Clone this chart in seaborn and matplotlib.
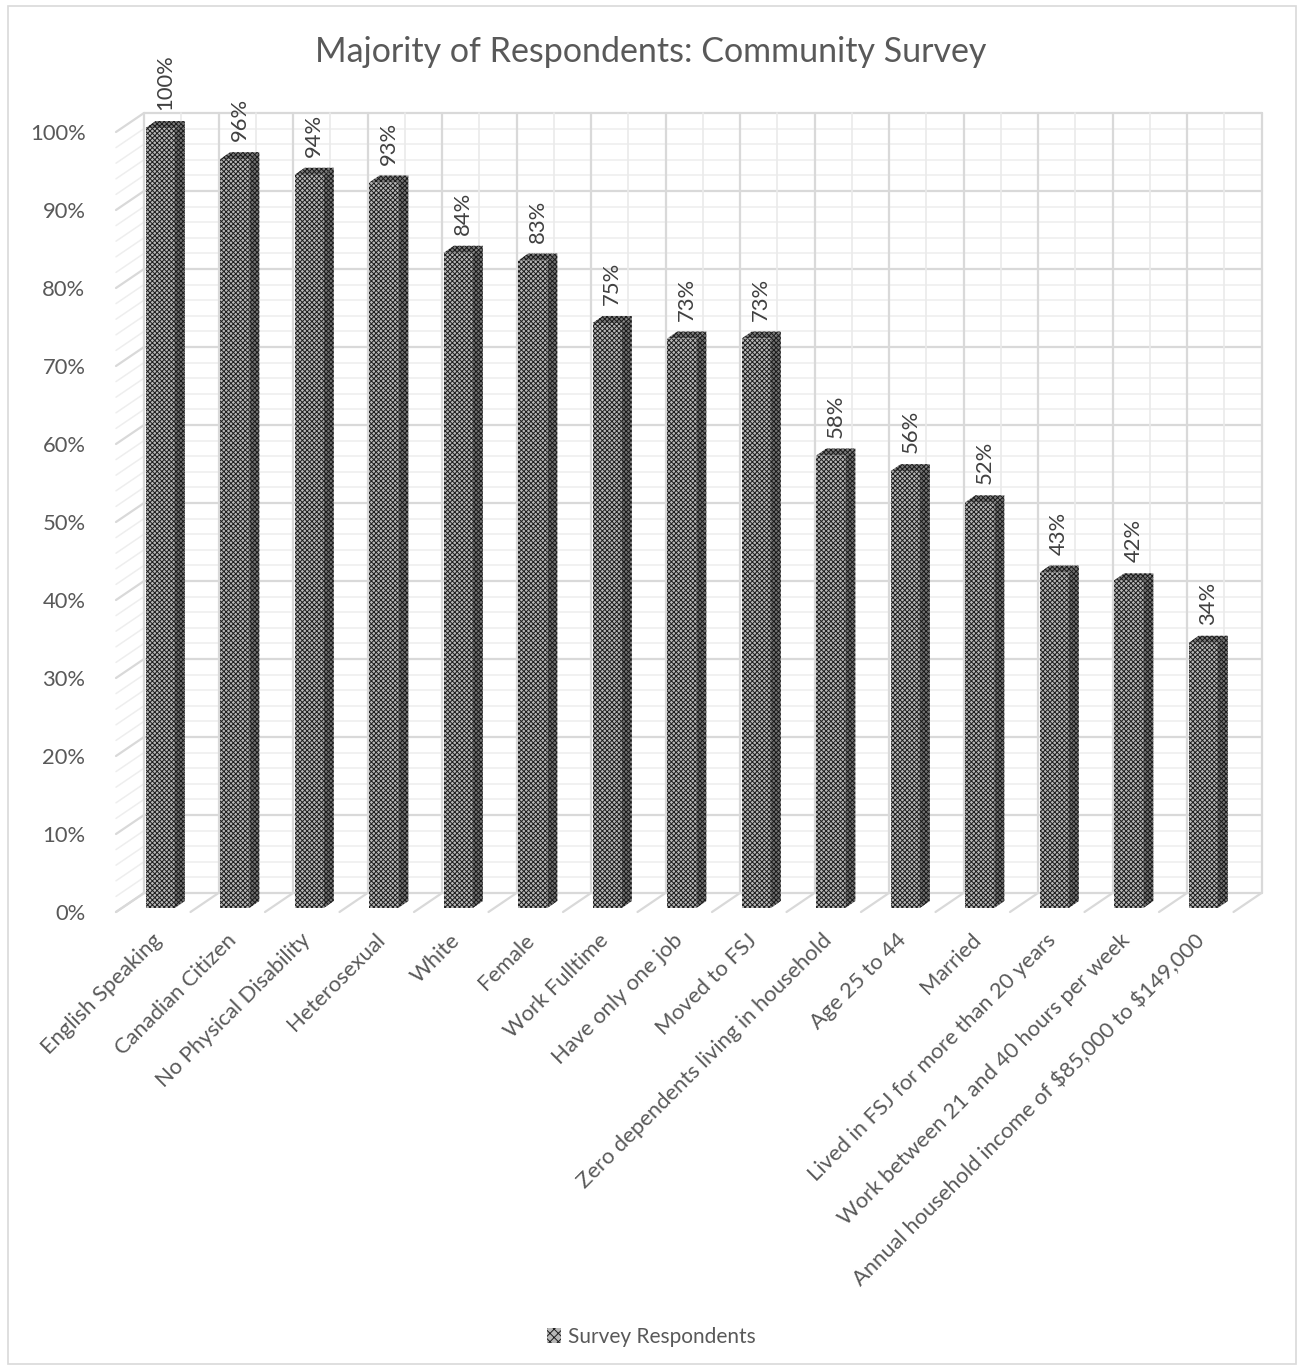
import matplotlib
matplotlib.use("Agg")
import matplotlib.pyplot as plt
import matplotlib.transforms as mtrans
import seaborn as sns
import pandas as pd
from matplotlib.patches import Polygon, Rectangle, Patch
from matplotlib.lines import Line2D

categories = [
    "English Speaking", "Canadian Citizen", "No Physical Disability", "Heterosexual",
    "White", "Female", "Work Fulltime", "Have only one job", "Moved to FSJ",
    "Zero dependents living in household", "Age 25 to 44", "Married",
    "Lived in FSJ for more than 20 years", "Work between 21 and 40 hours per week",
    "Annual household income of $85,000 to $149,000",
]
values = [100, 96, 94, 93, 84, 83, 75, 73, 73, 58, 56, 52, 43, 42, 34]
series_name = "Survey Respondents"
title = "Majority of Respondents: Community Survey"
yticks = list(range(0, 101, 10))

sns.set_theme(style="white")
plt.rcParams["font.family"] = ["Lato", "DejaVu Sans"]
plt.rcParams["hatch.linewidth"] = 0.7

W, H = 1302, 1370
fig = plt.figure(figsize=(W / 100, H / 100), dpi=100)
# axes = front plane of bars
ax_l, ax_r, ax_b, ax_t = 123, 1240.5, 908, 128
ax = fig.add_axes([ax_l / W, (H - ax_b) / H, (ax_r - ax_l) / W, (ax_b - ax_t) / H])

df = pd.DataFrame({"cat": categories, "val": values})
TXT = "#595959"
FS = 15.8

px_x = (ax_r - ax_l) / 15.0
px_y = (ax_b - ax_t) / 100.0
def dxp(p):
    return p / px_x
def dyp(p):
    return p / px_y

# depth offsets (pixels): back wall, front edge, bar depth
bx, by = dxp(21), dyp(15)
fx, fy = dxp(-7), dyp(-4)
ddx, ddy = dxp(10), dyp(7)

# back wall grid
xl, xr = -0.5, 14.5
for yv in range(0, 101, 2):
    major = yv % 10 == 0
    col = "#d9d9d9" if major else "#eeeeee"
    lw = 1.6 if major else 1.1
    ax.add_line(Line2D([xl + bx, xr + bx], [yv + by, yv + by], color=col, lw=lw, zorder=1, clip_on=False))
    ax.add_line(Line2D([xl + fx, xl + bx], [yv + fy, yv + by], color=col, lw=lw, zorder=1, clip_on=False))
for k in range(31):
    xv = -0.5 + 0.5 * k
    major = k % 2 == 0
    col = "#d9d9d9" if major else "#eaeaea"
    lw = 1.6 if major else 1.2
    ax.add_line(Line2D([xv + bx, xv + bx], [by, 100 + by], color=col, lw=lw, zorder=1, clip_on=False))
for k in range(16):
    xv = -0.5 + k
    ax.add_line(Line2D([xv + fx, xv + bx], [fy, by], color="#d9d9d9", lw=1.6, zorder=1, clip_on=False))

# bars
HATCH = "xxxxxxx"
sns.barplot(data=df, x="cat", y="val", ax=ax, width=0.39, color="#b8b8b8",
            edgecolor="#1e1e1e", linewidth=0, hatch=HATCH, saturation=1, zorder=3)

for p, v in zip(ax.patches, values):
    x0 = p.get_x()
    x1 = x0 + p.get_width()
    h = p.get_height()
    side = Polygon([(x1, 0), (x1 + ddx, ddy), (x1 + ddx, h + ddy), (x1, h)], closed=True,
                   facecolor="#727272", edgecolor="#1a1a1a", hatch=HATCH, lw=0, zorder=3, clip_on=False)
    top = Polygon([(x0, h), (x0 + ddx, h + ddy), (x1 + ddx, h + ddy), (x1, h)], closed=True,
                  facecolor="#7a7a7a", edgecolor="#1a1a1a", hatch=HATCH, lw=0, zorder=3, clip_on=False)
    ax.add_patch(side)
    ax.add_patch(top)
    ax.text(p.get_x() + p.get_width() / 2 + ddx / 2, h + ddy + dyp(11), f"{v}%", rotation=90,
            ha="center", va="bottom", fontsize=FS, color="#404040", zorder=5)

ax.set_xlim(-0.5, 14.5)
ax.set_ylim(0, 100)
for s in ax.spines.values():
    s.set_visible(False)
ax.set_xlabel("")
ax.set_ylabel("")
ax.set_yticks(yticks)
ax.set_yticklabels([f"{t}%" for t in yticks], fontsize=FS, color=TXT)
ax.tick_params(axis="y", length=0, pad=27)
off = mtrans.ScaledTranslation(0, -0.04, fig.dpi_scale_trans)
for lab in ax.get_yticklabels():
    lab.set_transform(lab.get_transform() + off)

ax.set_xticks(range(len(categories)))
ax.set_xticklabels([])
ax.tick_params(axis="x", length=0)
for i, c in enumerate(categories):
    ax.text(i + dxp(-9), dyp(-22), c.replace("$", r"\$"), rotation=45, rotation_mode="anchor",
            ha="right", va="top", fontsize=FS, color=TXT, clip_on=False)

fig.text(0.5, (H - 52) / H, title, ha="center", va="center", fontsize=24.5, color=TXT)

handle = Patch(facecolor="#b8b8b8", edgecolor="#1e1e1e", hatch="xxxx", lw=0)
leg = fig.legend([handle], [series_name], loc="center", bbox_to_anchor=(0.5, (H - 1337) / H),
                 frameon=False, fontsize=15, handlelength=0.7, handleheight=0.7, handletextpad=0.3)
for t in leg.get_texts():
    t.set_color(TXT)

fig.patches.append(Rectangle((8 / W, 6 / H), (1296 - 8) / W, (1364 - 6) / H, transform=fig.transFigure,
                             fill=False, edgecolor="#d9d9d9", lw=1.2))

fig.savefig("out.png", dpi=100)
